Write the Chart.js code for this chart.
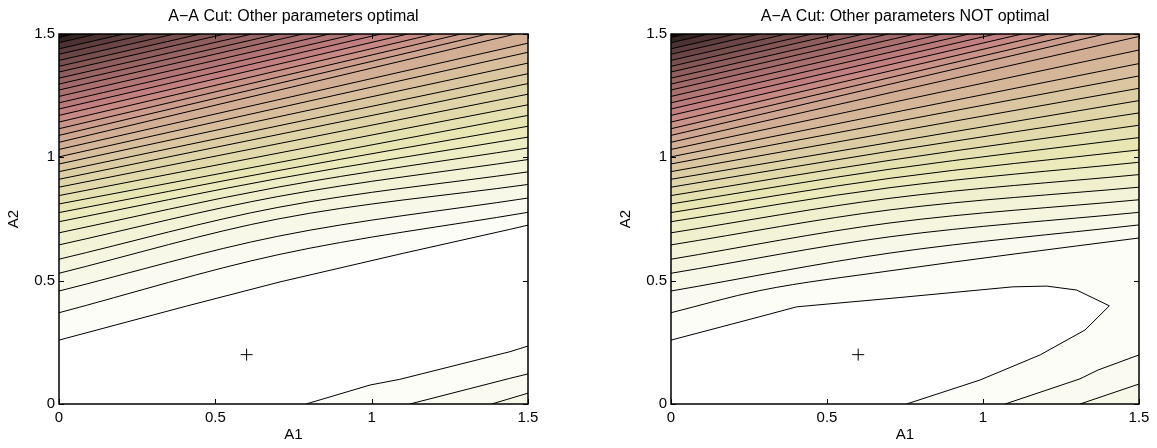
<!DOCTYPE html>
<html>
<head>
<meta charset="utf-8">
<script src="https://cdn.jsdelivr.net/npm/chart.js@4.4.1/dist/chart.umd.min.js"></script>
<style>
  html, body { margin: 0; padding: 0; background: #fff; }
  #wrap { position: relative; width: 1157px; height: 448px; }
  canvas { position: absolute; top: 0; }
  #left { left: 0; }
  #right { left: 612px; }
</style>
</head>
<body>
<div id="wrap">
  <canvas id="left" width="560" height="448"></canvas>
  <canvas id="right" width="545" height="448"></canvas>
</div>
<script>
// contour lines as [A1, A2] pairs, lowest level first
var leftUpper = [
  [[0,0.259],[0.408,0.397],[0.707,0.495],[1.101,0.611],[1.442,0.708],[1.5,0.725]],
  [[0,0.370],[0.7,0.605],[1.5,0.777]],
  [[0,0.458],[0.7,0.680],[1.5,0.835]],
  [[0,0.530],[0.7,0.750],[1.5,0.890]],
  [[0,0.587],[0.7,0.797],[1.5,0.941]],
  [[0,0.645],[0.7,0.841],[1.5,0.991]],
  [[0,0.694],[0.7,0.879],[1.5,1.038]],
  [[0,0.739],[0.7,0.914],[1.5,1.082]],
  [[0,0.776],[0.7,0.946],[1.5,1.126]],
  [[0,0.811],[1.5,1.170]],
  [[0,0.845],[1.5,1.213]],
  [[0,0.879],[1.5,1.256]],
  [[0,0.911],[1.5,1.299]],
  [[0,0.942],[1.5,1.339]],
  [[0,0.973],[1.5,1.382]],
  [[0,1.002],[1.5,1.426]],
  [[0,1.032],[1.5,1.463]],
  [[0,1.061],[1.46,1.5]],
  [[0,1.089],[1.37,1.5]],
  [[0,1.116],[1.285,1.5]],
  [[0,1.143],[1.20,1.5]],
  [[0,1.170],[1.115,1.5]],
  [[0,1.196],[1.03,1.5]],
  [[0,1.221],[0.95,1.5]],
  [[0,1.247],[0.865,1.5]],
  [[0,1.273],[0.78,1.5]],
  [[0,1.297],[0.70,1.5]],
  [[0,1.321],[0.617,1.5]],
  [[0,1.346],[0.531,1.5]],
  [[0,1.369],[0.452,1.5]],
  [[0,1.393],[0.369,1.5]],
  [[0,1.418],[0.283,1.5]],
  [[0,1.440],[0.207,1.5]],
  [[0,1.465],[0.121,1.5]],
  [[0,1.486],[0.048,1.5]]
];
// bottom-right corner lines, levels 1..3
var leftLower = [
  [[0.790,0],[0.995,0.077],[1.090,0.100],[1.442,0.212],[1.5,0.235]],
  [[1.122,0],[1.442,0.104],[1.5,0.122]],
  [[1.384,0],[1.5,0.044]]
];

// right panel: level 1 is the closed loop round the optimum
var rightLoopTop = [[0,0.259],[0.285,0.354],[0.403,0.394],[0.702,0.428],[1.096,0.475],[1.204,0.478],[1.300,0.462],[1.405,0.398]];
var rightLoopBottom = [[0.755,0],[0.990,0.097],[1.183,0.199],[1.327,0.300],[1.405,0.398]];
var rightUpper = [
  [[0,0.370],[0.285,0.460],[0.702,0.540],[1.1,0.608],[1.5,0.673]],
  [[0,0.458],[0.702,0.612],[1.5,0.726]],
  [[0,0.530],[0.702,0.678],[1.5,0.777]],
  [[0,0.587],[0.702,0.734],[1.5,0.828]],
  [[0,0.645],[0.702,0.787],[1.5,0.879]],
  [[0,0.694],[0.702,0.834],[1.5,0.930]],
  [[0,0.739],[0.702,0.877],[1.5,0.980]],
  [[0,0.776],[0.702,0.915],[1.5,1.030]],
  [[0,0.811],[0.702,0.952],[1.5,1.080]],
  [[0,0.845],[0.702,0.988],[1.5,1.130]],
  [[0,0.879],[0.702,1.025],[1.5,1.180]],
  [[0,0.911],[1.5,1.230]],
  [[0,0.942],[1.5,1.280]],
  [[0,0.973],[1.5,1.330]],
  [[0,1.002],[1.5,1.380]],
  [[0,1.032],[1.5,1.435]],
  [[0,1.061],[1.5,1.490]],
  [[0,1.089],[1.39,1.5]],
  [[0,1.116],[1.30,1.5]],
  [[0,1.143],[1.21,1.5]],
  [[0,1.170],[1.125,1.5]],
  [[0,1.196],[1.04,1.5]],
  [[0,1.221],[0.955,1.5]],
  [[0,1.247],[0.869,1.5]],
  [[0,1.273],[0.782,1.5]],
  [[0,1.297],[0.696,1.5]],
  [[0,1.321],[0.617,1.5]],
  [[0,1.346],[0.531,1.5]],
  [[0,1.369],[0.452,1.5]],
  [[0,1.393],[0.369,1.5]],
  [[0,1.418],[0.283,1.5]],
  [[0,1.440],[0.207,1.5]],
  [[0,1.465],[0.121,1.5]],
  [[0,1.486],[0.048,1.5]]
];
// bottom-right corner lines, levels 2..3
var rightLower = [
  [[1.071,0],[1.311,0.102],[1.369,0.138],[1.5,0.199]],
  [[1.311,0],[1.5,0.081]]
];

var optimum = [0.6, 0.2];
var tickVals = [0, 0.5, 1, 1.5];
var nLevels = 35;

// matlab "pink", sqrt((2*gray + hot)/3)
function pink(t) {
  var clamp = function(v) { return Math.max(0, Math.min(1, v)); };
  var hr = clamp(t / 0.375), hg = clamp((t - 0.375) / 0.375), hb = clamp((t - 0.75) / 0.25);
  var r = Math.sqrt((2 * t + hr) / 3), g = Math.sqrt((2 * t + hg) / 3), b = Math.sqrt((2 * t + hb) / 3);
  r = Math.max(r, 0.12);
  return 'rgb(' + Math.round(r * 255) + ',' + Math.round(g * 255) + ',' + Math.round(b * 255) + ')';
}
function levelColor(k) { return pink(1 - k / nLevels); }

function lineSet(pts, fill, color, smooth) {
  return {
    data: pts.map(function(p) { return {x: p[0], y: p[1]}; }),
    showLine: true, fill: fill, backgroundColor: color,
    borderColor: '#000', borderWidth: 1, pointRadius: 0,
    cubicInterpolationMode: smooth ? 'monotone' : 'default', tension: 0
  };
}

var frame = {
  id: 'frame',
  beforeDraw: function(chart, args, opts) {
    if (!opts.bg) return;
    var a = chart.chartArea, ctx = chart.ctx;
    ctx.save();
    ctx.fillStyle = opts.bg;
    ctx.fillRect(a.left, a.top, a.right - a.left, a.bottom - a.top);
    ctx.restore();
  },
  afterDatasetsDraw: function(chart) {
    var a = chart.chartArea, ctx = chart.ctx;
    var xs = chart.scales.x, ys = chart.scales.y;
    ctx.save();
    ctx.strokeStyle = '#000';
    ctx.lineWidth = 1;
    ctx.beginPath();
    tickVals.forEach(function(v) {
      var px = Math.round(xs.getPixelForValue(v)) + 0.5;
      ctx.moveTo(px, a.bottom); ctx.lineTo(px, a.bottom - 5);
      ctx.moveTo(px, a.top); ctx.lineTo(px, a.top + 5);
      var py = Math.round(ys.getPixelForValue(v)) + 0.5;
      ctx.moveTo(a.left, py); ctx.lineTo(a.left + 5, py);
      ctx.moveTo(a.right, py); ctx.lineTo(a.right - 5, py);
    });
    ctx.stroke();
    ctx.lineWidth = 1.5;
    ctx.strokeRect(a.left, a.top, a.right - a.left, a.bottom - a.top);
    ctx.restore();
  }
};

var font = "'Liberation Sans', Arial, Helvetica, sans-serif";

function axis(label, isX) {
  return {
    type: 'linear', min: 0, max: 1.5,
    afterBuildTicks: function(s) { s.ticks = tickVals.map(function(v) { return {value: v}; }); },
    afterFit: function(s) { if (isX) s.height = 44; else s.width = 59; },
    grid: {display: false, drawTicks: false},
    border: {display: false},
    ticks: {color: '#000', font: {family: font, size: 15}, padding: isX ? 5 : 4, maxRotation: 0, autoSkip: false,
            callback: function(v) { return String(v); }},
    title: {display: true, text: label, color: '#000', font: {family: font, size: 15},
            padding: isX ? {top: 0, bottom: 4.6} : {top: 5, bottom: 0}}
  };
}

function makeChart(id, title, rightPad, bg, datasets) {
  return new Chart(document.getElementById(id), {
    type: 'scatter',
    data: {datasets: datasets},
    options: {
      responsive: false,
      animation: false,
      layout: {padding: {left: 0, right: rightPad, top: 0, bottom: 0}},
      plugins: {
        legend: {display: false},
        tooltip: {enabled: false},
        title: {display: true, text: title, fullSize: false, color: '#000',
                font: {family: font, size: 16, weight: 'normal'}, padding: {top: 7, bottom: 7.8}},
        frame: {bg: bg}
      },
      scales: {x: axis('A1', true), y: axis('A2', false)}
    },
    plugins: [frame]
  });
}

function marker() {
  return {data: [{x: optimum[0], y: optimum[1]}], pointStyle: 'cross', pointRadius: 6,
          borderColor: '#000', borderWidth: 1, showLine: false};
}

// first dataset is painted last, so darkest levels go first
var leftSets = [marker()];
for (var i = leftUpper.length - 1; i >= 0; i--) leftSets.push(lineSet(leftUpper[i], 'end', levelColor(i + 1), i > 0));
for (i = leftLower.length - 1; i >= 0; i--) leftSets.push(lineSet(leftLower[i], 'start', levelColor(i + 1), false));
makeChart('left', 'A\u2212A Cut: Other parameters optimal', 32, null, leftSets);

var rightSets = [marker()];
for (i = rightUpper.length - 1; i >= 0; i--) rightSets.push(lineSet(rightUpper[i], 'end', levelColor(i + 2), true));
for (i = rightLower.length - 1; i >= 0; i--) rightSets.push(lineSet(rightLower[i], 'start', levelColor(i + 2), false));
rightSets.push(lineSet(rightLoopBottom, 'start', levelColor(1), false));
rightSets.push(lineSet(rightLoopTop, 'start', '#ffffff', false));
makeChart('right', 'A\u2212A Cut: Other parameters NOT optimal', 18, levelColor(1), rightSets);
</script>
</body>
</html>
